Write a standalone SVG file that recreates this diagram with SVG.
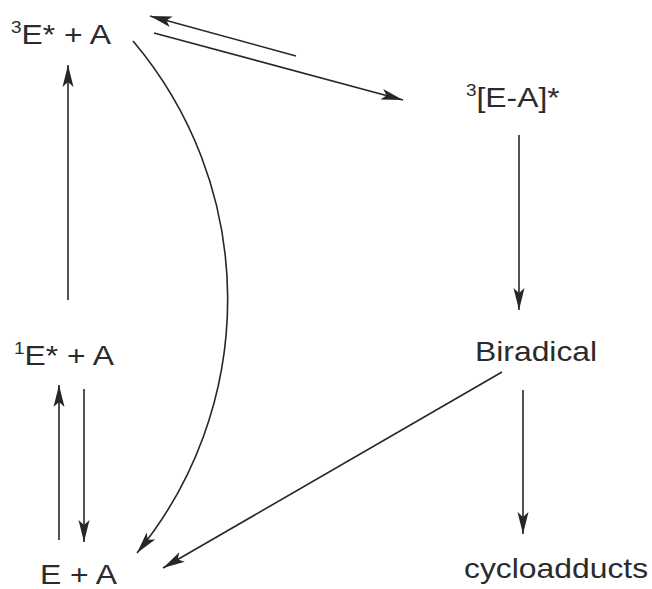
<svg xmlns="http://www.w3.org/2000/svg" width="652" height="589" viewBox="0 0 652 589">
<style>
  text { font-family: "Liberation Sans", Arial, sans-serif; font-size: 27px; fill: #2b2b2b; }
  .sup { font-size: 16px; }
  .c { fill: none; stroke: #262626; stroke-width: 1.6; marker-end: url(#ah); }
</style>
<defs>
  <marker id="ah" markerUnits="userSpaceOnUse" markerWidth="26" markerHeight="14" viewBox="-24 -7 26 14" refX="0" refY="0" orient="auto">
    <path d="M0,0 L-22,-5.5 L-17,0 L-22,5.5 Z" fill="#262626"/>
  </marker>
</defs>
<rect width="652" height="589" fill="#ffffff"/>
<g id="n-3EA">
  <text transform="translate(11,44) scale(1.18,1)"><tspan class="sup" dy="-11">3</tspan><tspan dy="11">E* + A</tspan></text>
</g>
<g id="n-1EA">
  <text transform="translate(14,365) scale(1.18,1)"><tspan class="sup" dy="-11">1</tspan><tspan dy="11">E* + A</tspan></text>
</g>
<g id="n-EA">
  <text transform="translate(40,584) scale(1.18,1)">E + A</text>
</g>
<g id="n-3EAc">
  <text transform="translate(466,107) scale(1.18,1)"><tspan class="sup" dy="-11">3</tspan><tspan dy="11">[E-A]*</tspan></text>
</g>
<g id="n-biradical">
  <text transform="translate(475,361) scale(1.18,1)">Biradical</text>
</g>
<g id="n-cycloadducts">
  <text transform="translate(464,578) scale(1.18,1)">cycloadducts</text>
</g>
<g id="connectors">
  <line class="c" x1="68" y1="300" x2="68" y2="65"/>
  <line class="c" x1="296" y1="56" x2="150" y2="16"/>
  <line class="c" x1="154" y1="33" x2="403" y2="100"/>
  <path class="c" d="M133,41 A400,400 0 0,1 137,553"/>
  <line class="c" x1="519" y1="135" x2="519" y2="310"/>
  <line class="c" x1="502" y1="372" x2="163" y2="568"/>
  <line class="c" x1="523" y1="390" x2="523" y2="534"/>
  <line class="c" x1="59" y1="540" x2="59" y2="385"/>
  <line class="c" x1="84" y1="389" x2="84" y2="542"/>
</g>
</svg>
